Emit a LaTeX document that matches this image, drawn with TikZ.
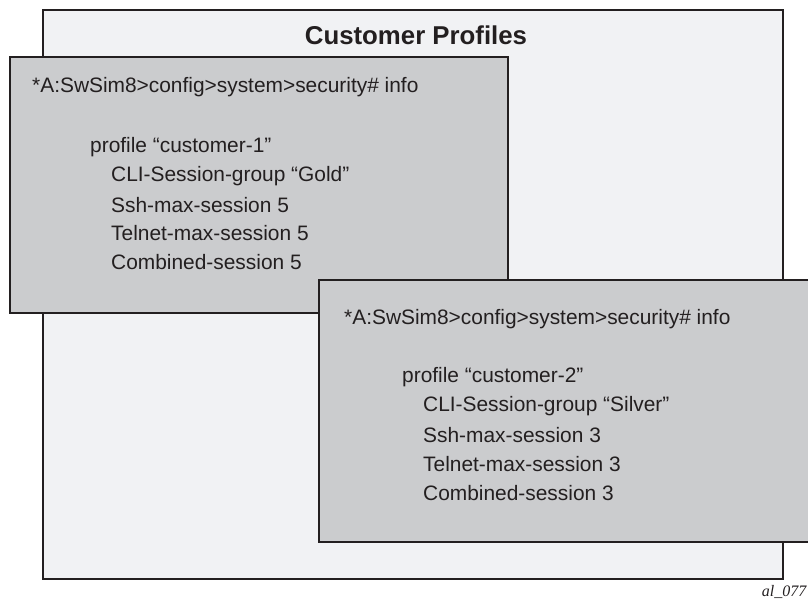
\documentclass[tikz,border=0pt]{standalone}
\usepackage{fontspec}
\setmainfont{Liberation Sans}
\newfontfamily\tagfont{Liberation Serif}
\usetikzlibrary{positioning}

\definecolor{panelgray}{HTML}{F1F2F4}
\definecolor{boxgray}{HTML}{CBCCCE}
\definecolor{edgedark}{HTML}{231F20}

\tikzset{
  panel/.style={draw=edgedark, line width=2.4pt, fill=#1},
  cli/.style={anchor=west, inner sep=0pt, text=edgedark,
    font=\fontsize{20.9}{25}\selectfont},
}

\begin{document}
\begin{tikzpicture}[x=1pt,y=-1pt]
  \useasboundingbox (0,0) rectangle (808,605);

  % outer panel with heading
  \draw[panel=panelgray] (43,10) rectangle (783,579);
  \node[text=edgedark, font=\bfseries\fontsize{25.8}{30}\selectfont] (title) at (416,35) {Customer Profiles};

  % profile customer-1
  \draw[panel=boxgray] (10,57) rectangle (508,313);
  \node[cli] (promptA) at (32,87) {*A:SwSim8>config>system>security\# info};
  \node[cli] (profA) at (90,147) {profile “customer-1”};
  \node[cli] (groupA) at (111,176) {CLI-Session-group “Gold”};
  \node[cli] (sshA) at (111,204.7) {Ssh-max-session 5};
  \node[cli] (telA) at (111,233.4) {Telnet-max-session 5};
  \node[cli] (combA) at (111,262) {Combined-session 5};

  % profile customer-2 (runs off the right edge)
  \draw[panel=boxgray] (319,280) rectangle (815,542);
  \node[cli] (promptB) at (344,319) {*A:SwSim8>config>system>security\# info};
  \node[cli] (profB) at (402,377) {profile “customer-2”};
  \node[cli] (groupB) at (423,406) {CLI-Session-group “Silver”};
  \node[cli] (sshB) at (423,435) {Ssh-max-session 3};
  \node[cli] (telB) at (423,464) {Telnet-max-session 3};
  \node[cli] (combB) at (423,493) {Combined-session 3};

  % figure tag in the bottom right corner
  \node[anchor=east, inner sep=0pt, text=edgedark, font=\tagfont\itshape\fontsize{16}{19}\selectfont] (figtag) at (806.5,592) {al\_077};
\end{tikzpicture}
\end{document}
